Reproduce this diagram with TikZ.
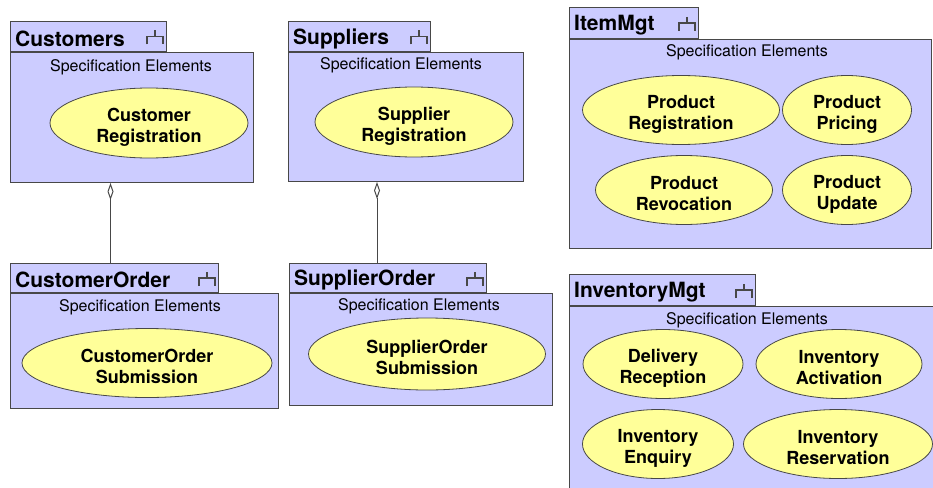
\documentclass[tikz,border=0pt]{standalone}
\usepackage{fontspec}
\setmainfont{TeX Gyre Heros}
\usetikzlibrary{arrows.meta, shapes.geometric, positioning}

\definecolor{pkgfill}{RGB}{204,204,255}
\definecolor{ucfill}{RGB}{255,255,153}
\definecolor{linegray}{RGB}{72,72,72}

\newcommand{\ucstrut}{\rule{0pt}{21pt}} % pushes use-case text down a little

\begin{document}
\begin{tikzpicture}[
    x=1pt, y=-1pt, % pixel-like units, y pointing down
    pkgtab/.style={draw=linegray, fill=pkgfill, line width=1pt, anchor=south west, inner sep=0pt}, % Style for package tabs
    pkgbody/.style={draw=linegray, fill=pkgfill, line width=1pt, anchor=north west, inner sep=0pt}, % Style for package bodies
    tabtitle/.style={anchor=west, inner sep=5pt, yshift=-2pt, font=\bfseries\fontsize{21}{24}\selectfont}, % Style for package names
    spectext/.style={inner sep=0pt, font=\fontsize{16}{19}\selectfont}, % Style for compartment caption
    usecase/.style={ellipse, draw=linegray, fill=ucfill, line width=0.8pt, inner sep=0pt, align=center,
        font=\bfseries\fontsize{18}{21}\selectfont}, % Style for use cases
    aggr/.style={{Diamond[fill=white, length=17pt, width=6pt]}-, draw=linegray, line width=1pt}, % Style for aggregation links
    forkicon/.pic={\draw[linegray, line width=1.1pt] (0,-6) -- (0,0) (-8,8) -- (-8,0) -- (8,0) -- (8,8);} % Subsystem icon
]
    \clip (0,0) rectangle (933,487);

    % --- Customers ---
    \node[pkgbody, minimum width=243pt, minimum height=130pt] (custbody) at (10,52) {};
    \node[pkgtab, minimum width=156pt, minimum height=30pt] (custtab) at (10,52) {};
    \node[tabtitle] (custname) at (custtab.west) {Customers};
    \pic at ([xshift=-12pt]custtab.east) {forkicon};
    \node[spectext] (custspec) at (131,67) {Specification Elements};
    \node[usecase, minimum width=198pt, minimum height=70pt] (custreg) at (149,123) {\ucstrut Customer\\Registration};

    % --- Suppliers ---
    \node[pkgbody, minimum width=235pt, minimum height=129pt] (supbody) at (288,52) {};
    \node[pkgtab, minimum width=142pt, minimum height=30pt] (suptab) at (288,52) {};
    \node[tabtitle] (supname) at (suptab.west) {Suppliers};
    \pic at ([xshift=-12pt]suptab.east) {forkicon};
    \node[spectext] (supspec) at (401,65) {Specification Elements};
    \node[usecase, minimum width=198pt, minimum height=70pt] (supreg) at (414,122) {\ucstrut Supplier\\Registration};

    % --- CustomerOrder ---
    \node[pkgbody, minimum width=268pt, minimum height=115pt] (cordbody) at (10,293) {};
    \node[pkgtab, minimum width=208pt, minimum height=29pt] (cordtab) at (10,293) {};
    \node[tabtitle] (cordname) at (cordtab.west) {CustomerOrder};
    \pic at ([xshift=-12pt]cordtab.east) {forkicon};
    \node[spectext] (cordspec) at (140,307) {Specification Elements};
    \node[usecase, minimum width=250pt, minimum height=69pt] (cordsub) at (147,363) {\ucstrut CustomerOrder\\Submission};

    % --- SupplierOrder ---
    \node[pkgbody, minimum width=263pt, minimum height=112pt] (sordbody) at (289,293) {};
    \node[pkgtab, minimum width=197pt, minimum height=29pt] (sordtab) at (289,293) {};
    \node[tabtitle] (sordname) at (sordtab.west) {SupplierOrder};
    \pic at ([xshift=-12pt]sordtab.east) {forkicon};
    \node[spectext] (sordspec) at (419,306) {Specification Elements};
    \node[usecase, minimum width=237pt, minimum height=72pt] (sordsub) at (427,354) {\ucstrut SupplierOrder\\Submission};

    % --- ItemMgt ---
    \node[pkgbody, minimum width=362pt, minimum height=209pt] (itembody) at (569,39) {};
    \node[pkgtab, minimum width=129pt, minimum height=31pt] (itemtab) at (569,39) {};
    \node[tabtitle] (itemname) at (itemtab.west) {ItemMgt};
    \pic at ([xshift=-12pt]itemtab.east) {forkicon};
    \node[spectext] (itemspec) at (747,52) {Specification Elements};
    \node[usecase, minimum width=197pt, minimum height=69pt] (prodreg) at (681,110) {\ucstrut Product\\Registration};
    \node[usecase, minimum width=129pt, minimum height=69pt] (prodprice) at (847,110) {\ucstrut Product\\Pricing};
    \node[usecase, minimum width=177pt, minimum height=69pt] (prodrevoke) at (684,190) {\ucstrut Product\\Revocation};
    \node[usecase, minimum width=129pt, minimum height=69pt] (produpdate) at (847,190) {\ucstrut Product\\Update};

    % --- InventoryMgt ---
    \node[pkgbody, minimum width=390pt, minimum height=200pt] (invbody) at (569,306) {};
    \node[pkgtab, minimum width=186pt, minimum height=31pt] (invtab) at (569,306) {};
    \node[tabtitle] (invname) at (invtab.west) {InventoryMgt};
    \pic at ([xshift=-12pt]invtab.east) {forkicon};
    \node[spectext] (invspec) at (747,320) {Specification Elements};
    \node[usecase, minimum width=160pt, minimum height=69pt] (delrec) at (663,364) {\ucstrut Delivery\\Reception};
    \node[usecase, minimum width=166pt, minimum height=69pt] (invact) at (839,364) {\ucstrut Inventory\\Activation};
    \node[usecase, minimum width=151pt, minimum height=69pt] (invenq) at (658,444) {\ucstrut Inventory\\Enquiry};
    \node[usecase, minimum width=189pt, minimum height=69pt] (invres) at (838,444) {\ucstrut Inventory\\Reservation};

    % --- Aggregation links ---
    \coordinate (custlink) at ([xshift=-4pt]cordtab.north);
    \coordinate (suplink) at ([xshift=-11pt]sordtab.north);
    \draw[aggr] (custbody.south -| custlink) -- (custlink);
    \draw[aggr] (supbody.south -| suplink) -- (suplink);

\end{tikzpicture}
\end{document}
